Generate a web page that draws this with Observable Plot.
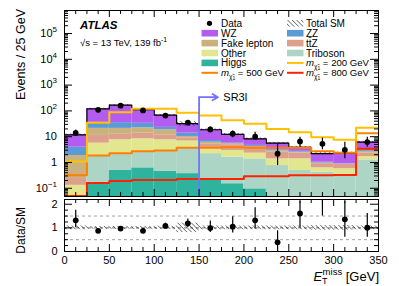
<!DOCTYPE html>
<html>
<head>
<meta charset="utf-8">
<script src="https://cdn.jsdelivr.net/npm/d3@7"></script>
<script src="https://cdn.jsdelivr.net/npm/@observablehq/plot@0.6"></script>
<style>
  html, body { margin: 0; padding: 0; background: #fff; }
  #chart { position: relative; width: 399px; height: 286px; overflow: hidden; }
  #chart > svg { position: absolute; left: 0; }
</style>
</head>
<body>
<div id="chart"></div>
<script>
// ---------------- data ----------------
const binLow = [0,25,50,75,100,125,150,175,200,225,250,275,300,325];
const binWidth = 25;
const processes = ["Higgs","Triboson","Other","ttZ","Fake lepton","ZZ","WZ"];   // stack order, bottom -> top
const higgs    = [0.01,0.17,0.49,0.62,0.45,0.37,0.21,0.15,0.095,0.02,0.01,0.01,0.01,0.02];
const triboson = [0.02,1.69,1.81,2.08,2.25,3.33,1.99,1.45,1.285,0.74,0.48,0.41,0.35,1.24];
const other    = [0.10,3.74,5.3,5.6,4.9,3.1,1.5,1.3,0.92,0.62,0.89,0.20,0.21,0.44];
const ttZ      = [0.11,5.6,5.4,5.4,4.2,2.3,1.6,2.0,1.4,1.12,0.92,0.28,0.28,0.6];
const fake     = [1.62,9.8,8.0,8.3,6.7,1.1,0.8,0.4,0.5,0.3,0.2,0.05,0.02,0.4];
const zz       = [2.04,15,14,11,4.5,3.5,1.0,0.3,0.4,0.3,0.2,0.07,0.02,0.7];
const wz       = [7.9,84,131,79,45,18.3,11.5,6.7,3.7,2.5,1.2,1.18,1.41,2.8];
const totalUnc = [0.08,0.06,0.06,0.06,0.07,0.2,0.08,0.08,0.08,0.08,0.08,0.1,0.1,0.08];

const dataVals = [14,110,160,104,66,35,19,13,10,2.2,6.5,5.3,3.1,6.2];
const dataLo   = [10.5,100,148,94,58,29,15,9,7.6,0.76,3.9,3.1,1.4,3.9];
const dataHi   = [18,121,173,115,75,41,24,16.8,15,5.3,9.6,8.8,6.1,9.6];

const sig200 = [1.1,35,89,120,120,85,66,43,32,20,15,9.6,7.6,22];
const sig500 = [0.32,1.86,2.3,2.7,2.9,3.7,3.7,3.9,3.7,3.7,3.7,2.7,2.4,13.7];
const sig800 = [0.05,0.16,0.19,0.21,0.21,0.23,0.23,0.23,0.29,0.29,0.32,0.32,0.33,3.4];

const ratio   = [1.32,0.875,0.97,0.875,1.08,1.19,0.99,1.05,1.32,0.39,1.61,2.4,1.36,1.01];
const ratioLo = [1.0,0.8,0.9,0.8,0.97,1.02,0.8,0.78,0.95,0.0,1.01,1.5,0.6,0.6];
const ratioHi = [1.75,0.95,1.05,0.95,1.2,1.37,1.29,1.47,1.85,0.875,2.1,3.5,2.1,1.61];

const xTicks = [0,50,100,150,200,250,300,350];
const yTicksMain = [0.1,1,10,100,1e3,1e4,1e5];
const yTicksRatio = [0,1,2];
const srCut = 150;

// ---------------- styles ----------------
const FONT = "'Liberation Sans', Arial, Helvetica, sans-serif";
const procColors = ["#2db39e","#acd5c6","#e2e68e","#dca08c","#c9b27c","#5b9bd5","#b45cf0"];
const colorOf = Object.fromEntries(processes.map((p, i) => [p, procColors[i]]));
const C200 = "#ffc000", C500 = "#ff7f00", C800 = "#ff2200", CSR = "#7272ff";

// ---------------- derived tables ----------------
const comps = [higgs, triboson, other, ttZ, fake, zz, wz];
const total = binLow.map((_, i) => d3.sum(comps, a => a[i]));
const stackRows = [];
binLow.forEach((lo, i) => {
  let c = 0;
  comps.forEach((arr, k) => {
    const b = c; c += arr[i];
    stackRows.push({x1: lo, x2: lo + binWidth, y1: b > 0 ? b : 1e-4, y2: c, proc: processes[k]});
  });
});
const bins = binLow.map((lo, i) => ({
  x1: lo, x2: lo + binWidth, xc: lo + binWidth / 2,
  total: total[i], unc: totalUnc[i],
  data: dataVals[i], dLo: dataLo[i], dHi: dataHi[i],
  r: ratio[i], rLo: ratioLo[i], rHi: ratioHi[i]
}));
const steps = vals => [...binLow.map((lo, i) => ({x: lo, y: vals[i]})), {x: binLow[binLow.length - 1] + binWidth, y: vals[vals.length - 1]}];

// ---------------- layout ----------------
const W = 399, ML = 64, MR = 21;
const FW = W - ML - MR;            // 314
const mainH = 200, mainMT = 10, mainMB = 4, FH = mainH - mainMT - mainMB;   // 186
const ratH = 91, ratMT = 4, ratMB = 35, FH2 = ratH - ratMT - ratMB;         // 52
const yDomMain = [0.048, 7.8e5];

const xMinor = d3.range(0, 350.1, 12.5).filter(v => v % 50 !== 0);
const yMinorMain = [];
for (let e = -2; e <= 5; e++) for (let m = 2; m <= 9; m++) {
  const v = m * 10 ** e; if (v > yDomMain[0] && v < yDomMain[1]) yMinorMain.push(v);
}
const yMinorRatio = [0.25,0.5,0.75,1.25,1.5,1.75];

const hatchDefs = id => () => {
  const d = d3.create("svg:defs");
  const p = d.append("pattern").attr("id", id).attr("patternUnits", "userSpaceOnUse")
    .attr("width", 3.2).attr("height", 3.2).attr("patternTransform", "rotate(-45)");
  p.append("line").attr("x1", 0).attr("y1", 0).attr("x2", 0).attr("y2", 3.2)
    .attr("stroke", "#000").attr("stroke-width", 0.9);
  return d.node();
};

const ticksMarks = (xMaj, xMin, yMaj, yMin, fh) => [
  Plot.ruleY(yMaj, {insetRight: FW - 8, stroke: "black"}),
  Plot.ruleY(yMaj, {insetLeft: FW - 8, stroke: "black"}),
  Plot.ruleY(yMin, {insetRight: FW - 4, stroke: "black"}),
  Plot.ruleY(yMin, {insetLeft: FW - 4, stroke: "black"}),
  Plot.ruleX(xMaj, {insetTop: fh - 7, stroke: "black"}),
  Plot.ruleX(xMaj, {insetBottom: fh - 7, stroke: "black"}),
  Plot.ruleX(xMin, {insetTop: fh - 4, stroke: "black"}),
  Plot.ruleX(xMin, {insetBottom: fh - 4, stroke: "black"})
];

// y labels with real superscripts
const logLabels = (index, scales, values, dims) => {
  const g = d3.create("svg:g").attr("font-family", FONT).attr("font-size", 11)
    .attr("text-anchor", "end").attr("fill", "black");
  for (const v of yTicksMain) {
    const e = Math.round(Math.log10(v));
    const t = g.append("text").attr("x", dims.marginLeft - 7).attr("y", scales.y(v)).attr("dy", "0.35em");
    if (e === 0) t.text("1");
    else if (e === 1) t.text("10");
    else t.html(`10<tspan dy="-5" font-size="8">${e < 0 ? "\u2212" + (-e) : e}</tspan>`);
  }
  return g.node();
};

// legend + labels in main panel
const legendLeft = [
  {label: "Data", kind: "dot"},
  {label: "WZ", kind: "fill", color: colorOf["WZ"]},
  {label: "Fake lepton", kind: "fill", color: colorOf["Fake lepton"]},
  {label: "Other", kind: "fill", color: colorOf["Other"]},
  {label: "Higgs", kind: "fill", color: colorOf["Higgs"]},
  {label: "500", kind: "line", color: C500}
];
const legendRight = [
  {label: "Total SM", kind: "hatch"},
  {label: "ZZ", kind: "fill", color: colorOf["ZZ"]},
  {label: "tt\u0304Z", kind: "fill", color: colorOf["ttZ"]},
  {label: "Triboson", kind: "fill", color: colorOf["Triboson"]},
  {label: "200", kind: "line", color: C200},
  {label: "800", kind: "line", color: C800}
];
const mainAnnot = () => {
  const g = d3.create("svg:g").attr("font-family", FONT).attr("fill", "black").attr("text-anchor", "start");
  g.append("text").attr("x", 80).attr("y", 28.5).attr("font-size", 11.5)
    .attr("font-weight", "bold").attr("font-style", "italic").text("ATLAS");
  g.append("text").attr("x", 80).attr("y", 46).attr("font-size", 9.5)
    .html('\u221As = 13 TeV, 139 fb<tspan dy="-4" font-size="7">-1</tspan>');
  g.append("text").attr("transform", "translate(25,9) rotate(-90)").attr("text-anchor", "end")
    .attr("font-size", 12.5).text("Events / 25 GeV");
  const cols = [{items: legendLeft, sx: 201.5, tx: 221}, {items: legendRight, sx: 287, tx: 306}];
  for (const col of cols) {
    col.items.forEach((it, j) => {
      const cy = 23.3 + j * 9.9;
      if (it.kind === "dot") g.append("circle").attr("cx", col.sx + 8).attr("cy", cy).attr("r", 2.6).attr("fill", "black");
      if (it.kind === "fill") g.append("rect").attr("x", col.sx).attr("y", cy - 3.3).attr("width", 16.5).attr("height", 6.6).attr("fill", it.color);
      if (it.kind === "hatch") {
        g.append("rect").attr("x", col.sx).attr("y", cy - 3.3).attr("width", 16.5).attr("height", 6.6).attr("fill", "url(#hatchA)");
      }
      if (it.kind === "line") g.append("line").attr("x1", col.sx).attr("x2", col.sx + 16.5).attr("y1", cy).attr("y2", cy)
        .attr("stroke", it.color).attr("stroke-width", 2);
      const t = g.append("text").attr("x", col.tx).attr("y", cy).attr("dy", "0.35em").attr("font-size", 10);
      if (it.kind === "line") {
        t.attr("font-size", 9.6).html(`<tspan font-style="italic">m</tspan><tspan dy="2.5" font-size="6.5">\u03C7\u0303<tspan font-size="5" dy="1.5">1</tspan></tspan><tspan dy="-4"> = ${it.label} GeV</tspan>`);
      } else t.text(it.label);
    });
  }
  return g.node();
};

// ---------------- main panel ----------------
const main = Plot.plot({
  width: W, height: mainH,
  marginLeft: ML, marginRight: MR, marginTop: mainMT, marginBottom: mainMB,
  style: {fontFamily: FONT, fontSize: "11px", background: "transparent", overflow: "visible"},
  x: {domain: [0, 350], axis: null},
  y: {type: "log", domain: yDomMain, axis: null},
  color: {domain: processes, range: procColors},
  marks: [
    hatchDefs("hatchA"),
    Plot.rect(stackRows, {x1: "x1", x2: "x2", y1: "y1", y2: "y2", fill: "proc", clip: true}),
    Plot.rect(bins, {x1: "x1", x2: "x2", y1: d => d.total * (1 - d.unc), y2: d => d.total * (1 + d.unc), fill: "url(#hatchA)", clip: true}),
    Plot.line(steps(total), {x: "x", y: "y", curve: "step-after", stroke: "black", strokeWidth: 1.2, clip: true}),
    Plot.line(steps(sig800), {x: "x", y: "y", curve: "step-after", stroke: C800, strokeWidth: 2, clip: true}),
    Plot.line(steps(sig500), {x: "x", y: "y", curve: "step-after", stroke: C500, strokeWidth: 2, clip: true}),
    Plot.line(steps(sig200), {x: "x", y: "y", curve: "step-after", stroke: C200, strokeWidth: 2, clip: true}),
    Plot.ruleX([{x: srCut, y1: yDomMain[0], y2: 340}], {x: "x", y1: "y1", y2: "y2", stroke: CSR, strokeWidth: 1.8}),
    Plot.arrow([{x1: srCut, x2: 171, y: 340}], {x1: "x1", x2: "x2", y1: "y", y2: "y", stroke: CSR, strokeWidth: 1.8, headLength: 7}),
    Plot.text([{x: 177, y: 340, t: "SR3l"}], {x: "x", y: "y", text: "t", textAnchor: "start", fontSize: 11, fill: "black"}),
    Plot.ruleX(bins, {x: "xc", y1: "dLo", y2: "dHi", stroke: "black", strokeWidth: 1.2, clip: true}),
    Plot.dot(bins, {x: "xc", y: "data", r: 2.9, fill: "black", clip: true}),
    ...ticksMarks(xTicks, xMinor, yTicksMain, yMinorMain, FH),
    Plot.frame({stroke: "black"}),
    logLabels,
    mainAnnot
  ]
});
main.style.top = "0px";

// ---------------- ratio panel ----------------
const ratioAnnot = () => {
  const g = d3.create("svg:g").attr("font-family", FONT).attr("fill", "black");
  g.append("text").attr("transform", "translate(25,12) rotate(-90)").attr("text-anchor", "end")
    .attr("font-size", 12).text("Data/SM");
  g.append("text").attr("x", 379).attr("y", 86).attr("text-anchor", "end").attr("font-size", 13)
    .html('<tspan font-style="italic">E</tspan><tspan font-size="9" dy="3">T</tspan><tspan font-size="9.5" dx="-5" dy="-9.5">miss</tspan><tspan dy="6.5"> [GeV]</tspan>');
  return g.node();
};
const ratioPlot = Plot.plot({
  width: W, height: ratH,
  marginLeft: ML, marginRight: MR, marginTop: ratMT, marginBottom: ratMB,
  style: {fontFamily: FONT, fontSize: "11px", background: "transparent", overflow: "visible"},
  x: {domain: [0, 350]},
  y: {domain: [0, 2.2]},
  marks: [
    hatchDefs("hatchB"),
    Plot.ruleY([0.5, 1.5], {stroke: "#888", strokeDasharray: "3,3", strokeWidth: 0.8}),
    Plot.ruleY([1], {stroke: "#555", strokeDasharray: "3,3", strokeWidth: 0.8}),
    Plot.rect(bins, {x1: "x1", x2: "x2", y1: d => 1 - d.unc, y2: d => 1 + d.unc, fill: "url(#hatchB)", clip: true}),
    Plot.ruleX(bins, {x: "xc", y1: "rLo", y2: "rHi", stroke: "black", strokeWidth: 1.2, clip: true}),
    Plot.dot(bins, {x: "xc", y: "r", r: 2.9, fill: "black", clip: true}),
    ...ticksMarks(xTicks, xMinor, yTicksRatio, yMinorRatio, FH2),
    Plot.axisX({ticks: xTicks, tickSize: 0, tickPadding: 5, tickFormat: d => String(d), label: null, fontSize: 11}),
    Plot.axisY({ticks: yTicksRatio, tickSize: 0, tickPadding: 7, tickFormat: d => String(d), label: null, fontSize: 11}),
    Plot.frame({stroke: "black"}),
    ratioAnnot
  ]
});
ratioPlot.style.top = "195px";

const chart = document.getElementById("chart");
chart.appendChild(main);
chart.appendChild(ratioPlot);
</script>
</body>
</html>
